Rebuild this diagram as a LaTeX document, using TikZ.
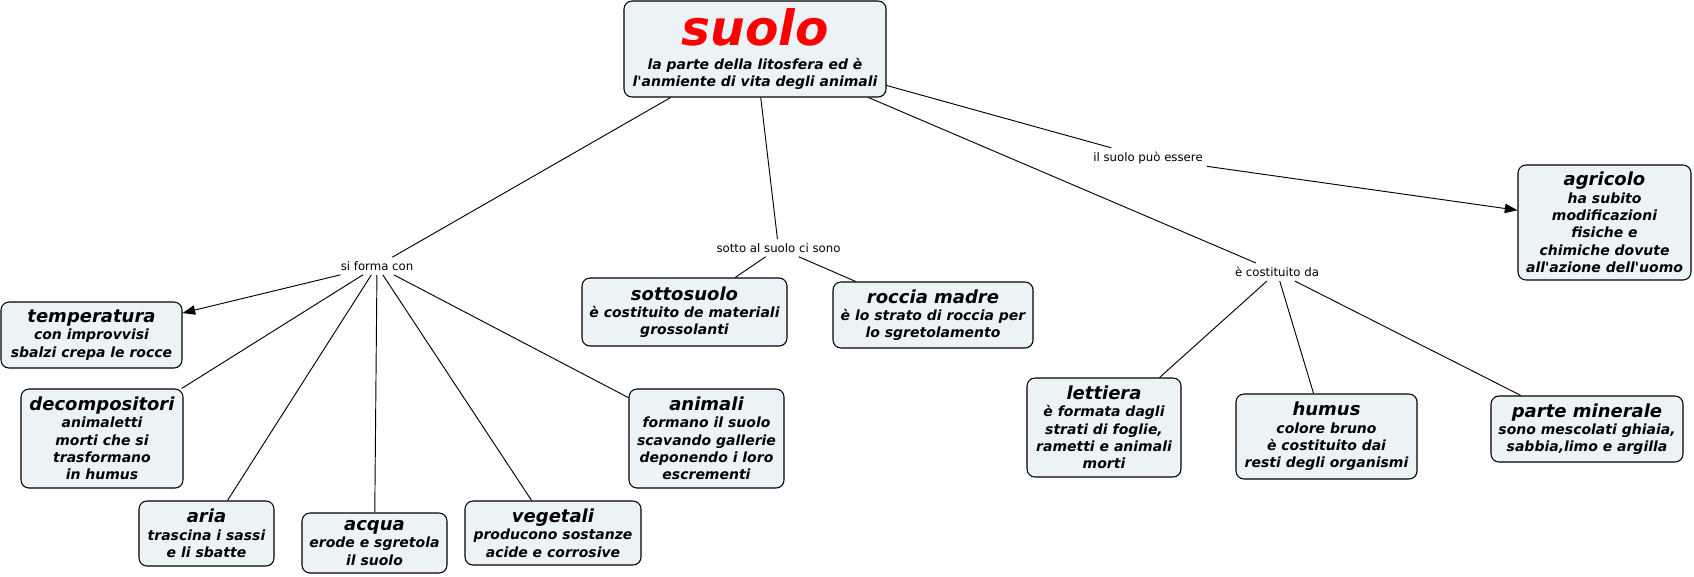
\documentclass[tikz,border=0pt]{standalone}
\usepackage{fontspec}
\newfontfamily\mapfont{DejaVu Sans}
\usetikzlibrary{arrows.meta}
\definecolor{conceptfill}{RGB}{236,243,246}
\definecolor{titlered}{RGB}{255,0,0}
\newcommand{\cname}[1]{{\fontsize{13.5}{13}\selectfont #1}}

\begin{document}
\begin{tikzpicture}[
    x=0.75pt, y=-0.75pt,
    concept/.style={rectangle, rounded corners=6pt, draw, line width=0.8pt, fill=conceptfill, align=center, inner sep=2pt, font=\mapfont\bfseries\itshape\fontsize{10.5}{13}\selectfont},
    link/.style={inner sep=3pt, font=\mapfont\fontsize{8.8}{10}\selectfont},
    line/.style={draw, line width=0.7pt},
    arrow/.style={line, -{Triangle[length=9.5pt, width=7pt]}}
]
\useasboundingbox (0,0) rectangle (1694,576);

% Main concept at the top
\node[concept, minimum width=196.5pt, minimum height=72pt] (suolo) at (755,49) {{\fontsize{36.5}{30}\selectfont\color{titlered}suolo}\\[5pt]la parte della litosfera ed è\\l'anmiente di vita degli animali};

% Linking phrases
\node[link] (forma) at (377,266) {si forma con};
\node[link] (sotto) at (778.5,248) {sotto al suolo ci sono};
\node[link] (essere) at (1148,158) {il suolo può essere};
\node[link] (costituito) at (1277,272) {è costituito da};

% Concepts on the left branch
\node[concept, minimum width=135.75pt, minimum height=49.5pt] (temperatura) at (91.5,335) {\cname{temperatura}\\con improvvisi\\sbalzi crepa le rocce};
\node[concept, minimum width=121.5pt, minimum height=74.25pt] (decompositori) at (102,438.5) {\cname{decompositori}\\animaletti\\morti che si\\trasformano\\in humus};
\node[concept, minimum width=101.25pt, minimum height=48.75pt] (aria) at (206.5,533.5) {\cname{aria}\\trascina i sassi\\e li sbatte};
\node[concept, minimum width=108.75pt, minimum height=45pt] (acqua) at (374.5,543) {\cname{acqua}\\erode e sgretola\\il suolo};
\node[concept, minimum width=132pt, minimum height=48pt] (vegetali) at (553,533) {\cname{vegetali}\\producono sostanze\\acide e corrosive};
\node[concept, minimum width=116.25pt, minimum height=74.25pt] (animali) at (706.5,438.5) {\cname{animali}\\formano il suolo\\scavando gallerie\\deponendo i loro\\escrementi};

% Concepts below the soil
\node[concept, minimum width=153.75pt, minimum height=51pt] (sottosuolo) at (684.5,312) {\cname{sottosuolo}\\è costituito de materiali\\grossolanti};
\node[concept, minimum width=150pt, minimum height=49.5pt] (roccia) at (933,315) {\cname{roccia madre}\\è lo strato di roccia per\\lo sgretolamento};

% Components of the soil
\node[concept, minimum width=115.5pt, minimum height=74.25pt] (lettiera) at (1104,427.5) {\cname{lettiera}\\è formata dagli\\strati di foglie,\\rametti e animali\\morti};
\node[concept, minimum width=135.75pt, minimum height=63.75pt] (humus) at (1326.5,436.5) {\cname{humus}\\colore bruno\\è costituito dai\\resti degli organismi};
\node[concept, minimum width=144pt, minimum height=49.5pt] (minerale) at (1587,429) {\cname{parte minerale}\\sono mescolati ghiaia,\\sabbia,limo e argilla};

% Kind of soil
\node[concept, minimum width=129.75pt, minimum height=86.25pt] (agricolo) at (1604.5,222.5) {\cname{agricolo}\\ha subito\\modificazioni\\fisiche e\\chimiche dovute\\all'azione dell'uomo};

% Connectors from the main concept
\draw[line] (suolo) -- (forma);
\draw[line] (suolo) -- (sotto);
\draw[line] (suolo) -- (essere);
\draw[line] (suolo) -- (costituito);

% si forma con
\draw[arrow] (forma) -- (temperatura);
\draw[line] (forma) -- (decompositori);
\draw[line] (forma) -- (aria);
\draw[line] (forma) -- (acqua);
\draw[line] (forma) -- (vegetali);
\draw[line] (forma) -- (animali);

% sotto al suolo ci sono
\draw[line] (sotto) -- (sottosuolo);
\draw[line] (sotto) -- (roccia);

% il suolo puo essere
\draw[arrow] (essere) -- (agricolo);

% e costituito da
\draw[line] (costituito) -- (lettiera);
\draw[line] (costituito) -- (humus);
\draw[line] (costituito) -- (minerale);

\end{tikzpicture}
\end{document}
